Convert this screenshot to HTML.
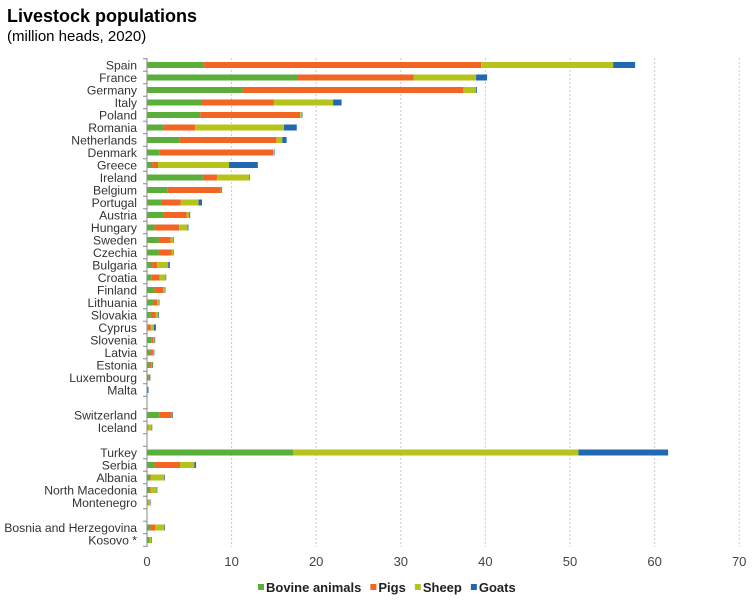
<!DOCTYPE html>
<html><head><meta charset="utf-8"><style>
body{margin:0;background:#fff;font-family:"Liberation Sans",Arial,sans-serif;}
#wrap{position:relative;width:754px;height:604px;overflow:hidden;}
.t{position:absolute;left:7px;color:#000;}
</style></head><body>
<div id="wrap">
<div class="t" style="top:6px;font-size:18px;font-weight:bold">Livestock populations</div>
<div class="t" style="top:28px;font-size:15px">(million heads, 2020)</div>
<svg id="chart" width="754" height="604" style="position:absolute;left:0;top:0"></svg>
</div>
<script>
const categories=["Spain","France","Germany","Italy","Poland","Romania","Netherlands","Denmark","Greece","Ireland","Belgium","Portugal","Austria","Hungary","Sweden","Czechia","Bulgaria","Croatia","Finland","Lithuania","Slovakia","Cyprus","Slovenia","Latvia","Estonia","Luxembourg","Malta","","Switzerland","Iceland","","Turkey","Serbia","Albania","North Macedonia","Montenegro","","Bosnia and Herzegovina","Kosovo *"];
const bovine=[6.7,17.8,11.3,6.5,6.3,1.9,3.8,1.5,0.6,6.6,2.4,1.7,1.9,0.9,1.4,1.4,0.6,0.5,0.9,0.7,0.45,0.1,0.5,0.4,0.25,0.2,0.02,0,1.5,0.1,0,17.3,0.9,0.4,0.25,0.1,0,0.4,0.25];
const pigs=[32.8,13.7,26.1,8.5,11.8,3.8,11.5,13.4,0.7,1.7,6.3,2.3,2.8,2.9,1.4,1.5,0.6,1.0,1.0,0.5,0.6,0.35,0.25,0.3,0.3,0.1,0.04,0,1.4,0.05,0,0,3.0,0.05,0.2,0.05,0,0.55,0.05];
const sheep=[15.6,7.4,1.5,7.0,0.2,10.5,0.7,0.1,8.4,3.8,0.1,2.1,0.3,1.0,0.3,0.2,1.3,0.7,0.2,0.2,0.3,0.35,0.15,0.1,0.1,0.02,0.02,0,0.1,0.4,0,33.7,1.7,1.6,0.7,0.2,0,1.1,0.2];
const goats=[2.6,1.3,0.1,1.0,0.05,1.5,0.5,0.02,3.4,0.02,0.02,0.4,0.1,0.1,0.05,0.05,0.2,0.02,0.02,0.02,0.05,0.25,0.05,0.02,0.02,0.01,0.1,0,0.02,0.02,0,10.6,0.2,0.05,0.05,0.02,0,0.05,0.02];
const xTicks=[0,10,20,30,40,50,60,70];
const seriesNames=["Bovine animals","Pigs","Sheep","Goats"];
const colors=["#5aae3a","#f26522","#b5c31b","#2068b2"];
const X0=147,PX=8.46,Y0=65,ROW=12.5,BH=6;
const x=v=>X0+v*PX, y=i=>Y0+i*ROW;
const svg=document.getElementById('chart'),NS="http://www.w3.org/2000/svg";
function mk(t,a){const e=document.createElementNS(NS,t);for(const k in a)e.setAttribute(k,a[k]);svg.appendChild(e);return e;}
xTicks.forEach(v=>{
 if(v>0){const g=mk('line',{x1:x(v),x2:x(v),y1:58,y2:547,stroke:'#c8c8c8','stroke-dasharray':'2,2'});
 
 }
 const t=mk('text',{x:x(v),y:566,'text-anchor':'middle','font-size':13,fill:'#444','font-family':'Liberation Sans, sans-serif'});t.textContent=v;
 
 
});
const ax=mk('line',{x1:X0,x2:X0,y1:58,y2:547,stroke:'#888'});


for(let i=0;i<=categories.length;i++){const tk=mk('line',{x1:143,x2:X0,y1:Y0-ROW/2+i*ROW,y2:Y0-ROW/2+i*ROW,stroke:'#888'});
 
 }
const series=[bovine,pigs,sheep,goats];
categories.forEach((c,i)=>{
 if(c){const t=mk('text',{x:137,y:y(i)+4.5,'text-anchor':'end','font-size':12.2,fill:'#333','font-family':'Liberation Sans, sans-serif'});t.textContent=c;
 
 }
 let acc=0;
 series.forEach((s,k)=>{const v=s[i];if(v>0){const r=mk('rect',{x:x(acc),y:y(i)-BH/2,width:Math.max(v*PX,0.6),height:BH,fill:colors[k]});
 
 acc+=v;}});
});
let lx=258;
seriesNames.forEach((n,k)=>{
 const r=mk('rect',{x:lx,y:584,width:6,height:6,fill:colors[k]});
 
 
 const t=mk('text',{x:lx+8,y:592,'font-size':13,'font-weight':'bold',fill:'#222','font-family':'Liberation Sans, sans-serif'});t.textContent=n;
 
 
 lx+=8+t.getComputedTextLength()+9;
});
</script>
</body></html>
